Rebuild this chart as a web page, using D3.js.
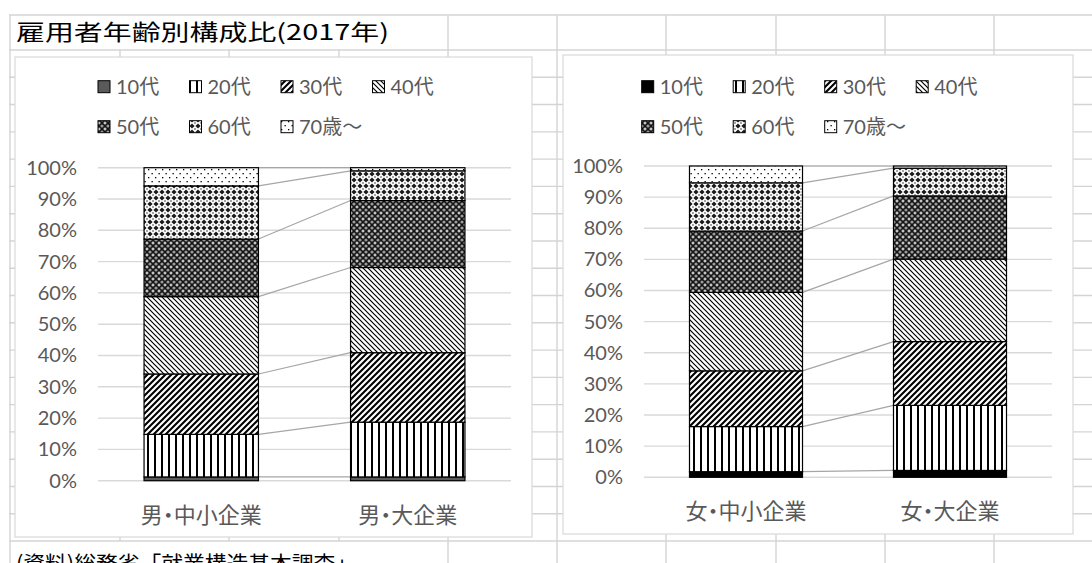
<!DOCTYPE html>
<html>
<head>
<meta charset="utf-8">
<script src="https://cdn.jsdelivr.net/npm/d3@7"></script>
<style>
  body { margin: 0; background: #fff; overflow: hidden; }
  svg  { display: block; }
</style>
</head>
<body>
<script>

// ---- data (shares in %) ----
var ageGroups    = ["10代", "20代", "30代", "40代", "50代", "60代", "70歳～"];
var maleCats     = ["男・中小企業", "男・大企業"];
var femaleCats   = ["女・中小企業", "女・大企業"];

var maleSmall    = [1.2, 13.6, 19.3, 24.7, 18.4, 17.0, 5.8];
var maleLarge    = [1.2, 17.5, 22.2, 27.2, 21.4,  9.5, 1.0];
var femaleSmall  = [1.8, 14.5, 17.9, 25.2, 19.7, 15.5, 5.4];
var femaleLarge  = [2.2, 20.9, 20.5, 26.5, 20.3,  8.9, 0.7];

var yTicks       = [0, 10, 20, 30, 40, 50, 60, 70, 80, 90, 100];
var titleText    = "雇用者年齢別構成比(2017年)";
var sourceText   = "(資料)総務省「就業構造基本調査」";

var W = 1092, H = 563;
var textGray = "#595959";
var jpFont   = "'Noto Sans CJK JP', sans-serif";
var numFont  = "Lato, 'Noto Sans CJK JP', sans-serif";

var svg = d3.select("body").append("svg")
    .attr("width", W)
    .attr("height", H);

var defs = svg.append("defs");

// ---- Excel-like pattern fills ----
function add_pattern(id, w, h, bg) {
    var p = defs.append("pattern")
        .attr("id", id)
        .attr("patternUnits", "userSpaceOnUse")
        .attr("width", w)
        .attr("height", h);
    p.append("rect").attr("width", w).attr("height", h).attr("fill", bg);
    return p;
}

var p20 = add_pattern("p20", 7, 7, "#fff");
p20.append("rect").attr("x", 0).attr("width", 2).attr("height", 7).attr("fill", "#000");

var p30 = add_pattern("p30", 6, 6, "#fff");
p30.append("path").attr("d", "M-1,1 L1,-1 M0,6 L6,0 M5,7 L7,5")
    .attr("stroke", "#000").attr("stroke-width", 2.1);

var p40 = add_pattern("p40", 5, 5, "#fff");
p40.append("path").attr("d", "M-1,4 L1,6 M0,0 L5,5 M4,-1 L6,1")
    .attr("stroke", "#000").attr("stroke-width", 1.2);

var p50 = add_pattern("p50", 6, 6, "#151515");
[[0, 0], [6, 0], [0, 6], [6, 6]].forEach(function(c) {
    p50.append("circle").attr("cx", c[0]).attr("cy", c[1]).attr("r", 1.6).attr("fill", "#9a9a9a");
});
p50.append("rect").attr("x", 2.5).attr("y", 1.5).attr("width", 1).attr("height", 3).attr("fill", "#fff");
p50.append("rect").attr("x", 1.5).attr("y", 2.5).attr("width", 3).attr("height", 1).attr("fill", "#fff");

var p60 = add_pattern("p60", 6, 6, "#fff");
[[0, 0], [6, 0], [0, 6], [6, 6]].forEach(function(c) {
    p60.append("path")
        .attr("d", "M" + c[0] + "," + (c[1] - 2.6) + " l2.6,2.6 l-2.6,2.6 l-2.6,-2.6Z")
        .attr("fill", "#1a1a1a");
});
p60.append("circle").attr("cx", 3).attr("cy", 3).attr("r", 0.9).attr("fill", "#777");

var p70 = add_pattern("p70", 7, 8, "#fff");
p70.append("rect").attr("x", 1).attr("y", 1).attr("width", 1.3).attr("height", 1.3).attr("fill", "#000");
p70.append("rect").attr("x", 4.5).attr("y", 5).attr("width", 1.3).attr("height", 1.3).attr("fill", "#000");

var patternFills = ["", "url(#p20)", "url(#p30)", "url(#p40)", "url(#p50)", "url(#p60)", "url(#p70)"];

// ---- spreadsheet grid behind the charts ----
var colLines   = [10, 120, 229, 339, 448, 557, 666, 776, 885, 994];
var rowLines   = [15].concat(d3.range(19).map(function(i) { return 50 + i * 27.28; }));
var overflowed = [120, 229, 339];   // hidden under the overflowing title / source text

var grid = svg.append("g").attr("stroke", "#d4d4d4").attr("stroke-width", 1.4);
rowLines.forEach(function(y) {
    grid.append("line").attr("x1", 9).attr("x2", W).attr("y1", y).attr("y2", y);
});
colLines.forEach(function(x) {
    var hide = overflowed.indexOf(x) >= 0;
    grid.append("line").attr("x1", x).attr("x2", x)
        .attr("y1", hide ? 50 : 15).attr("y2", hide ? 541 : H);
});

svg.append("text")
    .attr("x", 16).attr("y", 39.5)
    .attr("font-family", jpFont).attr("font-size", 22)
    .attr("textLength", 373).attr("lengthAdjust", "spacingAndGlyphs")
    .attr("fill", "#000")
    .text(titleText);

// the source line sits in the last, partly visible row (cut off as in the sheet)
svg.append("text")
    .attr("x", 16).attr("y", 571)
    .attr("font-family", jpFont).attr("font-size", 21)
    .attr("textLength", 341).attr("lengthAdjust", "spacingAndGlyphs")
    .attr("fill", "#000")
    .text(sourceText);

// ---- one stacked chart ----
function draw_chart(d) {

    var g = svg.append("g");

    g.append("rect")
        .attr("x", d.box[0]).attr("y", d.box[1])
        .attr("width", d.box[2]).attr("height", d.box[3])
        .attr("fill", "#fff").attr("stroke", "#d9d9d9").attr("stroke-width", 1.2);

    var x = d3.scaleBand().domain(d.cats).range([d.plotX0, d.plotX1])
        .paddingInner(0.446).paddingOuter(0.223);
    var y = d3.scaleLinear().domain([0, 100]).range([d.plotY0, d.plotY100]);

    // gridlines
    g.append("g").selectAll("line").data(yTicks).join("line")
        .attr("x1", d.plotX0).attr("x2", d.plotX1)
        .attr("y1", function(t) { return y(t); }).attr("y2", function(t) { return y(t); })
        .attr("stroke", "#d9d9d9").attr("stroke-width", 1.4);

    // y labels
    var yAxis = g.append("g")
        .attr("transform", "translate(" + (d.plotX0 - 21) + ",0)")
        .call(d3.axisLeft(y).tickValues(yTicks).tickSize(0).tickPadding(0)
            .tickFormat(function(t) { return t + "%"; }));
    yAxis.select(".domain").remove();
    yAxis.selectAll("text")
        .attr("font-family", numFont).attr("font-size", 20).attr("fill", textGray);

    // category labels
    var xAxis = g.append("g")
        .attr("transform", "translate(0," + d.catY + ")")
        .call(d3.axisBottom(x).tickSize(0).tickPadding(0));
    xAxis.select(".domain").remove();
    xAxis.selectAll("text")
        .attr("dy", 0)
        .attr("font-family", jpFont).attr("font-size", 22)
        .style("font-feature-settings", "'palt' 1")
        .attr("fill", textGray);

    // stack
    var rows = d.cats.map(function(c, i) {
        var r = { cat: c };
        ageGroups.forEach(function(a, j) { r[a] = d.values[i][j]; });
        return r;
    });
    var layers = d3.stack().keys(ageGroups)(rows);

    // series lines between the two bars
    var c0 = d.cats[0], c1 = d.cats[1];
    g.append("g").selectAll("line").data(layers).join("line")
        .attr("x1", x(c0) + x.bandwidth())
        .attr("x2", x(c1))
        .attr("y1", function(l) { return y(l[0][1]); })
        .attr("y2", function(l) { return y(l[1][1]); })
        .attr("stroke", "#a6a6a6").attr("stroke-width", 1.2);

    // segments
    layers.forEach(function(l, j) {
        var fill = j == 0 ? d.firstFill : patternFills[j];
        g.append("g").selectAll("rect").data(l).join("rect")
            .attr("x", function(s) { return x(s.data.cat); })
            .attr("width", x.bandwidth())
            .attr("y", function(s) { return y(s[1]); })
            .attr("height", function(s) { return y(s[0]) - y(s[1]); })
            .attr("fill", fill)
            .attr("stroke", "#000").attr("stroke-width", 1.2);
    });

    // legend, 4 per row
    var lg = g.append("g");
    ageGroups.forEach(function(a, j) {
        var lx = d.legendX + (j % 4) * 91.5;
        var ly = d.legendY[Math.floor(j / 4)];
        lg.append("rect")
            .attr("x", lx).attr("y", ly - 6)
            .attr("width", 12).attr("height", 12)
            .attr("fill", j == 0 ? d.firstFill : patternFills[j])
            .attr("stroke", "#000").attr("stroke-width", 1);
        lg.append("text")
            .attr("x", lx + 18).attr("y", ly).attr("dy", "0.35em")
            .attr("font-family", numFont).attr("font-size", 20).attr("fill", textGray)
            .text(a);
    });
}

draw_chart({
    box:       [15, 57, 517, 480],
    cats:      maleCats,
    values:    [maleSmall, maleLarge],
    plotX0:    98,  plotX1: 511,
    plotY0:    480.7, plotY100: 167.7,
    catY:      523,
    legendX:   98,
    legendY:   [86.7, 126.7],
    firstFill: "#5a5a5a"
});

draw_chart({
    box:       [563, 55, 510, 479],
    cats:      femaleCats,
    values:    [femaleSmall, femaleLarge],
    plotX0:    644, plotX1: 1052,
    plotY0:    477.3, plotY100: 166,
    catY:      519,
    legendX:   641.7,
    legendY:   [86.7, 126.7],
    firstFill: "#000"
});

</script>
</body>
</html>
